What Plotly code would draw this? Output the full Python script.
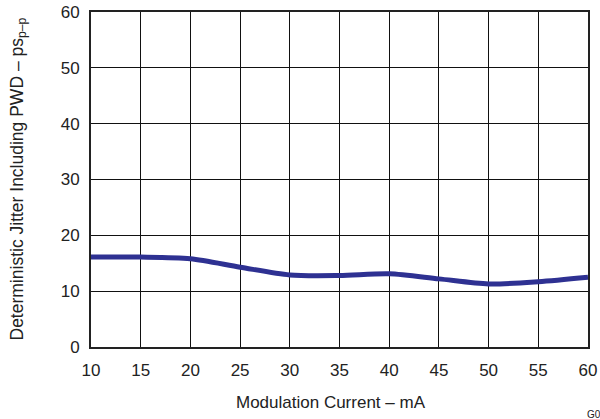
import plotly.graph_objects as go

current_mA = [10, 15, 20, 25, 30, 35, 40, 45, 50, 55, 60]
jitter_ps = [16.1, 16.1, 15.8, 14.3, 12.9, 12.8, 13.1, 12.2, 11.3, 11.7, 12.5]
x_ticks = [10, 15, 20, 25, 30, 35, 40, 45, 50, 55, 60]
y_ticks = [0, 10, 20, 30, 40, 50, 60]

FAM = "Liberation Sans, Arial, sans-serif"
tick_font = dict(family=FAM, size=17, color="#222222")

fig = go.Figure()
fig.add_trace(go.Scatter(
    x=current_mA, y=jitter_ps, mode="lines",
    line=dict(color="#2E3192", width=5, shape="spline", smoothing=0.8),
    showlegend=False))

fig.update_layout(
    width=600, height=419,
    margin=dict(l=91, r=12, t=12, b=72, autoexpand=False),
    paper_bgcolor="white", plot_bgcolor="white",
    font=tick_font,
    xaxis=dict(range=[10, 60], tickvals=x_ticks, showgrid=True, gridcolor="#111111",
               gridwidth=1, showline=True, linecolor="#222222", linewidth=2, mirror=True,
               ticks="", zeroline=False, tickfont=tick_font, automargin=False,
               ticklabelstandoff=7),
    yaxis=dict(range=[0, 60], tickvals=y_ticks, showgrid=True, gridcolor="#111111",
               gridwidth=1, showline=True, linecolor="#222222", linewidth=2, mirror=True,
               ticks="", zeroline=False, tickfont=tick_font, automargin=False,
               ticklabelstandoff=6),
)
fig.add_annotation(text="Modulation Current – mA", xref="paper", yref="paper",
                   x=0.5, y=0, xshift=-9, yshift=-55, xanchor="center", yanchor="middle",
                   showarrow=False, font=dict(family=FAM, size=17, color="#222222"))
fig.add_annotation(text="Deterministic Jitter Including PWD – ps<sub>p–p</sub>",
                   xref="paper", yref="paper", x=0, y=0.5, xshift=-73,
                   xanchor="center", yanchor="middle", textangle=-90,
                   showarrow=False, font=dict(family=FAM, size=17.5, color="#222222"))
fig.add_annotation(text="G005", xref="paper", yref="paper", x=1.0, y=0,
                   xshift=-3, yshift=-60, xanchor="left", yanchor="top", showarrow=False,
                   font=dict(family=FAM, size=10, color="#222222"))
fig.write_html("out.html", config={"displayModeBar": False},
               post_script="document.body.style.margin='0';document.body.style.overflow='hidden';")
